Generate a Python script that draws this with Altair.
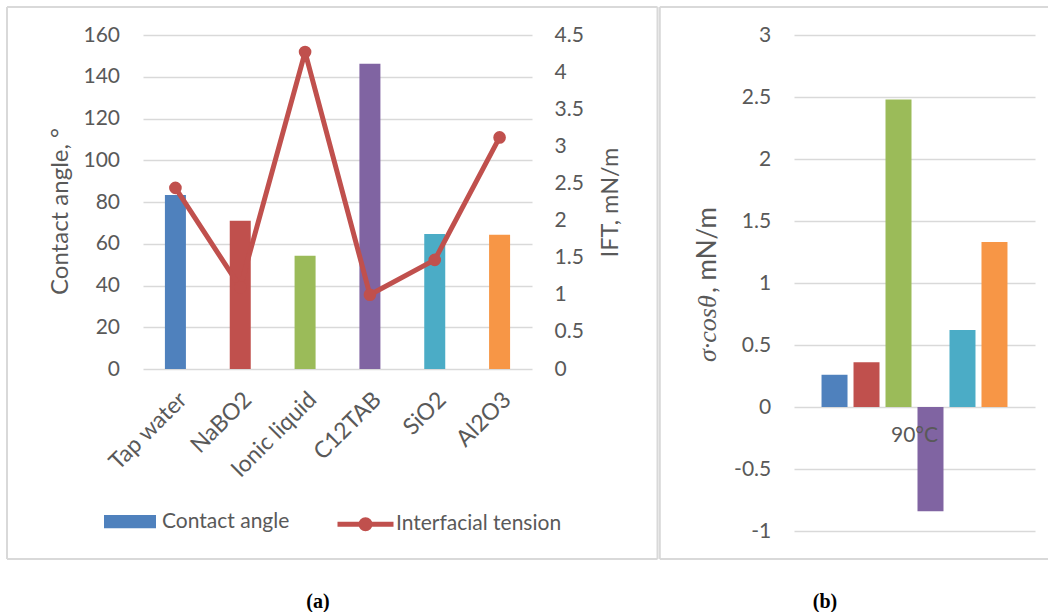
import altair as alt
import pandas as pd

# ---- data -----------------------------------------------------------------
categories = ["Tap water", "NaBO2", "Ionic liquid", "C12TAB", "SiO2", "Al2O3"]
contact_angle = [83.4, 71.0, 54.2, 146.2, 64.7, 64.3]          # degrees
ift = [2.44, 1.10, 4.27, 1.00, 1.47, 3.12]                      # mN/m
sigma_cos = [0.26, 0.36, 2.48, -0.84, 0.62, 1.33]               # mN/m
temperature = ["90°C"]
series_names = ["Contact angle", "Interfacial tension"]
panel_tags = ["(a)", "(b)"]
b_title_parts = ["σ·cosθ", ", mN/m"]

angle_ticks = [0, 20, 40, 60, 80, 100, 120, 140, 160]
ift_ticks = [0, 0.5, 1, 1.5, 2, 2.5, 3, 3.5, 4, 4.5]
sc_ticks = [-1, -0.5, 0, 0.5, 1, 1.5, 2, 2.5, 3]

# ---- style ----------------------------------------------------------------
bar_colors = ["#4F81BD", "#C0504D", "#9BBB59", "#8064A2", "#4BACC6", "#F79646"]
RED = "#C0504D"
FONT = "Lato"
GREY = "#595959"
GRID = "#D9D9D9"
FS = 21

RECT_SYMBOL = "M-1,-0.256H1V0.256H-1Z"
LINE_SYMBOL = ("M-1,0H1"
               "M0.16,0A0.16,0.16,0,1,1,-0.16,0A0.16,0.16,0,1,1,0.16,0"
               "M0.05,0A0.05,0.05,0,1,1,-0.05,0A0.05,0.05,0,1,1,0.05,0")

one_row = pd.DataFrame({"k": [0]})


def frame_rule(x, y, x2=None, y2=None):
    enc = {"x": alt.value(x), "y": alt.value(y)}
    if x2 is not None:
        enc["x2"] = alt.value(x2)
    if y2 is not None:
        enc["y2"] = alt.value(y2)
    return alt.Chart(one_row).mark_rule(color=GRID, strokeWidth=2).encode(**enc)


def tag(text, x, y):
    return alt.Chart(pd.DataFrame({"t": [text]})).mark_text(
        font="Liberation Serif", fontWeight="bold", fontSize=20, color="black",
        baseline="middle", align="center"
    ).encode(x=alt.value(x), y=alt.value(y), text="t:N")


# ---- panel (a): contact angle bars + IFT line ------------------------------
W_A, H_A = 389, 334
df_a = pd.DataFrame({
    "category": categories,
    "angle": contact_angle,
    "ift": ift,
    "series": series_names[1],
})

x_a = alt.X(
    "category:N",
    scale=alt.Scale(domain=categories, paddingInner=0.676, paddingOuter=0.338),
    axis=alt.Axis(title=None, labelAngle=-45, labelPadding=19, labelFontSize=23,
                  grid=False),
)

bars_a = alt.Chart(df_a).mark_bar().encode(
    x=x_a,
    y=alt.Y(
        "angle:Q",
        scale=alt.Scale(domain=[0, 160], nice=False),
        axis=alt.Axis(values=angle_ticks, title="Contact angle, °", grid=True,
                      labelPadding=23.5, titlePadding=10, titleY=176,
                      titleFontSize=24),
    ),
    color=alt.Color(
        "category:N",
        scale=alt.Scale(domain=categories, range=bar_colors),
        legend=alt.Legend(values=[categories[0]], labelExpr=f"'{series_names[0]}'",
                          title=None, orient="none", legendX=-39, legendY=460.7,
                          symbolType=RECT_SYMBOL, symbolSize=2704,
                          symbolStrokeWidth=0, labelOffset=6, padding=0,
                          labelLimit=0,
                          labelFont=FONT, labelFontSize=FS, labelColor=GREY),
    ),
)

line_a = alt.Chart(df_a).mark_line(strokeWidth=5, strokeJoin="round").encode(
    x=x_a,
    y=alt.Y(
        "ift:Q",
        scale=alt.Scale(domain=[0, 4.5], nice=False),
        axis=alt.Axis(orient="right", values=ift_ticks, format="~g",
                      title="IFT, mN/m", titleAngle=270, titleBaseline="top",
                      titlePadding=15.5, titleFontSize=23.5, grid=False,
                      labelPadding=22),
    ),
    stroke=alt.Stroke(
        "series:N",
        scale=alt.Scale(domain=[series_names[1]], range=[RED]),
        legend=alt.Legend(title=None, orient="none", legendX=192, legendY=458.7,
                          symbolType=LINE_SYMBOL, symbolSize=3136,
                          symbolStrokeWidth=5, labelOffset=0, padding=0,
                          labelLimit=0,
                          labelFont=FONT, labelFontSize=FS, labelColor=GREY),
    ),
)

dots_a = alt.Chart(df_a).mark_circle(size=160, color=RED, opacity=1).encode(
    x=x_a,
    y=alt.Y("ift:Q", scale=alt.Scale(domain=[0, 4.5], nice=False), axis=None),
)

panel_a = alt.layer(
    frame_rule(-136, -28, x2=514.5),
    frame_rule(-136, 524, x2=514.5),
    frame_rule(-136, -28, y2=524),
    frame_rule(514.5, -28, y2=524),
    bars_a,
    line_a,
    dots_a,
    tag(panel_tags[0], 175, 567),
).resolve_scale(y="independent").properties(width=W_A, height=H_A)

# ---- panel (b): sigma*cos(theta) bars --------------------------------------
W_B, H_B = 241, 496
df_b = pd.DataFrame({
    "category": categories,
    "value": sigma_cos,
    "temp": temperature[0],
})

x_b = alt.X("temp:N",
            scale=alt.Scale(domain=temperature, paddingInner=0, paddingOuter=0.148),
            axis=None)

bars_b = alt.Chart(df_b).mark_bar().encode(
    x=x_b,
    xOffset=alt.XOffset("category:N",
                        scale=alt.Scale(domain=categories, paddingInner=0.1875,
                                        paddingOuter=0)),
    y=alt.Y(
        "value:Q",
        scale=alt.Scale(domain=[-1, 3], nice=False),
        axis=alt.Axis(values=sc_ticks, title=None, grid=True, labelPadding=23.3,
                      labelExpr="replace(format(datum.value, '~g'), '\u2212', '-')"),
    ),
    color=alt.Color("category:N",
                    scale=alt.Scale(domain=categories, range=bar_colors),
                    legend=None),
)

temp_label = alt.Chart(pd.DataFrame({"temp": temperature})).mark_text(
    dy=29, font=FONT, fontSize=FS, color=GREY, baseline="middle"
).encode(x=x_b, y=alt.datum(0), text="temp:N")

title_b1 = alt.Chart(pd.DataFrame({"t": [b_title_parts[0]]})).mark_text(
    angle=270, align="left", baseline="alphabetic", font="Liberation Serif",
    fontStyle="italic", fontSize=26, color=GREY
).encode(x=alt.value(-78), y=alt.value(327), text="t:N")

title_b2 = alt.Chart(pd.DataFrame({"t": [b_title_parts[1]]})).mark_text(
    angle=270, align="left", baseline="alphabetic", font=FONT,
    fontSize=26, color=GREY
).encode(x=alt.value(-78), y=alt.value(258), text="t:N")

panel_b = alt.layer(
    frame_rule(-134.2, -28, x2=254),
    frame_rule(-134.2, 524, x2=254),
    frame_rule(-134.2, -28, y2=524),
    bars_b,
    temp_label,
    title_b1,
    title_b2,
    tag(panel_tags[1], 31, 567),
).properties(width=W_B, height=H_B)

chart = alt.hconcat(panel_a, panel_b, spacing=262, bounds="flush").resolve_scale(
    color="independent"
).resolve_legend(
    color="independent"
).configure_view(
    strokeWidth=0
).configure_axis(
    labelFont=FONT, labelFontSize=FS, labelColor=GREY,
    titleFont=FONT, titleColor=GREY, titleFontWeight="normal",
    domain=False, ticks=False, tickSize=0,
    gridColor=GRID, gridWidth=1.5,
).properties(
    padding={"left": 6, "top": 6, "right": 0, "bottom": 0}
)

chart.save("out.html", embed_options={"renderer": "svg", "actions": False})
